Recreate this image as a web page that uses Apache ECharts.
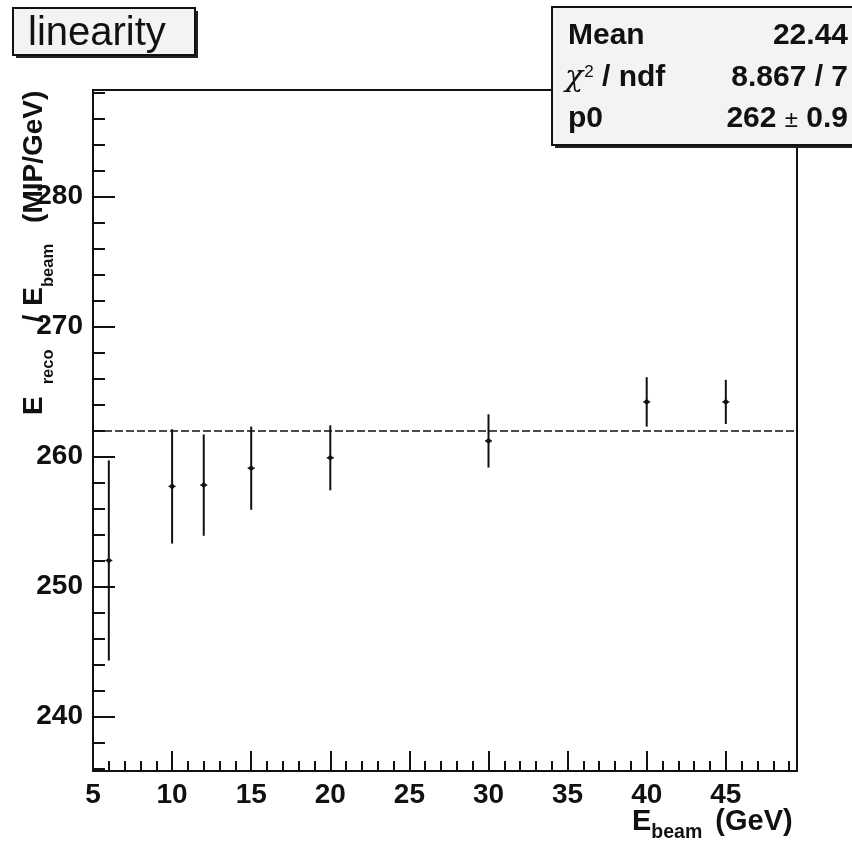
<!DOCTYPE html>
<html>
<head>
<meta charset="utf-8">
<script src="https://cdn.jsdelivr.net/npm/echarts@6/dist/echarts.min.js"></script>
<style>html,body{margin:0;padding:0;background:#fff;}#c{width:852px;height:842px;}</style>
</head>
<body>
<div id="c"></div>
<script>
// ---- data ----
const beamEnergy = [6, 10, 12, 15, 20, 30, 40, 45];
const linearity = [252.0, 257.7, 257.8, 259.1, 259.9, 261.2, 264.2, 264.2];
const linearityErr = [7.7, 4.4, 3.9, 3.2, 2.5, 2.05, 1.9, 1.7];
const fitP0 = 262;
const xRange = [5, 49.5];
const yRange = [235.8, 288.2];
const xTickStep = 5, xMinorStep = 1;
const yTickStep = 10, yMinorStep = 2;
const statsLabels = ['Mean', '\u03c7', 'p0'];
const statsValues = ['22.44', '8.867 / 7', '262', '0.9'];
const titleText = 'linearity';

const FONT = '"Liberation Sans", Arial, Helvetica, sans-serif';
const INK = '#111';

const chart = echarts.init(document.getElementById('c'), null, {renderer: 'canvas'});

const errData = beamEnergy.map((x, i) => [x, linearity[i], linearityErr[i]]);

const option = {
  animation: false,
  backgroundColor: '#fff',
  grid: {left: 93, right: 55, top: 90, bottom: 71, show: true, borderColor: INK, borderWidth: 2, backgroundColor: 'transparent'},
  xAxis: [
    {type: 'value', min: xRange[0], max: xRange[1], interval: xTickStep, position: 'bottom',
     axisLine: {show: true, lineStyle: {color: INK, width: 2}},
     axisTick: {show: true, inside: true, length: 20, lineStyle: {color: INK, width: 2}},
     axisLabel: {show: true, showMaxLabel: false, margin: 10, color: INK, fontSize: 28, fontWeight: 'bold', fontFamily: FONT,
                 formatter: v => (v % xTickStep === 0 ? String(v) : '')},
     splitLine: {show: false}},
    {type: 'value', min: xRange[0], max: xRange[1], interval: xMinorStep, position: 'bottom', offset: 0,
     axisLine: {show: false},
     axisTick: {show: true, inside: true, length: 10, lineStyle: {color: INK, width: 2}},
     axisLabel: {show: false}, splitLine: {show: false}}
  ],
  yAxis: [
    {type: 'value', min: yRange[0], max: yRange[1], splitNumber: 5, minInterval: yTickStep, maxInterval: yTickStep, position: 'left',
     axisLine: {show: true, lineStyle: {color: INK, width: 2}},
     axisTick: {show: true, inside: true, length: 22, lineStyle: {color: INK, width: 2}},
     axisLabel: {show: true, margin: 10, color: INK, fontSize: 28, fontWeight: 'bold', fontFamily: FONT,
                 formatter: v => (Math.abs(v % yTickStep) < 1e-6 ? String(v) : '')},
     splitLine: {show: false}},
    {type: 'value', min: yRange[0], max: yRange[1], splitNumber: 5, minInterval: yMinorStep, maxInterval: yMinorStep, position: 'left', offset: 0,
     axisLine: {show: false},
     axisTick: {show: true, inside: true, length: 12, lineStyle: {color: INK, width: 2}},
     axisLabel: {show: false}, splitLine: {show: false}}
  ],
  series: [
    {type: 'line', data: [], xAxisIndex: 0, yAxisIndex: 0, silent: true,
     markLine: {silent: true, symbol: 'none', label: {show: false},
                lineStyle: {color: INK, width: 1.6, type: [8, 3]},
                data: [{yAxis: fitP0}]}},
    {type: 'custom', xAxisIndex: 0, yAxisIndex: 0, data: errData, z: 10,
     renderItem: function (params, api) {
       const x = api.value(0), y = api.value(1), e = api.value(2);
       const top = api.coord([x, y + e]);
       const bot = api.coord([x, y - e]);
       const c = api.coord([x, y]);
       return {type: 'group', children: [
         {type: 'line', shape: {x1: top[0], y1: top[1], x2: bot[0], y2: bot[1]}, style: {stroke: INK, lineWidth: 2}},
         {type: 'line', shape: {x1: c[0] - 3.5, y1: c[1], x2: c[0] + 3.5, y2: c[1]}, style: {stroke: INK, lineWidth: 1.5}},
         {type: 'circle', shape: {cx: c[0], cy: c[1], r: 2.3}, style: {fill: INK}}
       ]};
     }}
  ],
  graphic: [
    // title box
    {type: 'rect', shape: {x: 16, y: 11, width: 182, height: 47}, style: {fill: '#222'}, z: 100},
    {type: 'rect', shape: {x: 13, y: 8, width: 182, height: 47}, style: {fill: '#f3f3f3', stroke: INK, lineWidth: 2}, z: 101},
    {type: 'text', x: 28, y: 34, z: 102, style: {text: titleText, font: 'normal 40px ' + FONT, fill: INK, verticalAlign: 'middle', align: 'left'}},
    // stats box
    {type: 'rect', shape: {x: 555, y: 10, width: 320, height: 138}, style: {fill: '#222'}, z: 100},
    {type: 'rect', shape: {x: 552, y: 7, width: 320, height: 138}, style: {fill: '#f3f3f3', stroke: INK, lineWidth: 2}, z: 101},
    {type: 'text', x: 568, y: 36, z: 102, style: {text: statsLabels[0], font: 'bold 30px ' + FONT, fill: INK, verticalAlign: 'middle', align: 'left'}},
    {type: 'text', x: 565, y: 78, z: 102, style: {
      text: '{g|' + statsLabels[1] + '}{sup|2}{b| / ndf}', verticalAlign: 'middle', align: 'left',
      rich: {g: {font: 'italic 30px "DejaVu Serif", serif', fill: INK, lineHeight: 36},
             sup: {font: 'normal 17px ' + FONT, fill: INK, lineHeight: 17, padding: [0, 0, 12, 1]},
             b: {font: 'bold 30px ' + FONT, fill: INK, lineHeight: 36}}}},
    {type: 'text', x: 568, y: 119, z: 102, style: {text: statsLabels[2], font: 'bold 30px ' + FONT, fill: INK, verticalAlign: 'middle', align: 'left'}},
    {type: 'text', x: 848, y: 36, z: 102, style: {text: statsValues[0], font: 'bold 30px ' + FONT, fill: INK, verticalAlign: 'middle', align: 'right'}},
    {type: 'text', x: 848, y: 78, z: 102, style: {text: statsValues[1], font: 'bold 30px ' + FONT, fill: INK, verticalAlign: 'middle', align: 'right'}},
    {type: 'text', x: 848, y: 119, z: 102, style: {
      text: '{b|' + statsValues[2] + ' }{pm|\u00b1}{b| ' + statsValues[3] + '}', align: 'right', verticalAlign: 'middle',
      rich: {b: {font: 'bold 30px ' + FONT, fill: INK, lineHeight: 36},
             pm: {font: 'normal 24px ' + FONT, fill: INK, lineHeight: 24, padding: [3, 0, 0, 0]}}}},
    // x axis title
    {type: 'text', x: 632, y: 822, z: 50, style: {
      text: '{m|E}{s|beam}{p|(GeV)}', align: 'left', verticalAlign: 'middle',
      rich: {m: {font: 'bold 29px ' + FONT, fill: INK, lineHeight: 36},
             p: {font: 'bold 29px ' + FONT, fill: INK, lineHeight: 36, padding: [0, 0, 0, 13]},
             s: {font: 'bold 19.5px ' + FONT, fill: INK, lineHeight: 20, padding: [22, 0, 0, 0]}}}},
    // y axis title (rotated, reads upward)
    {type: 'text', x: 34, y: 415, rotation: Math.PI / 2, z: 50, style: {
      text: '{m|E}{s1|reco}{sl|/}{e|E}{s2|beam}{u|(MIP/GeV)}', align: 'left', verticalAlign: 'middle',
      rich: {m: {font: 'bold 28px ' + FONT, fill: INK, lineHeight: 36},
             s1: {font: 'bold 16.5px ' + FONT, fill: INK, lineHeight: 17, padding: [29, 0, 0, 12]},
             sl: {font: 'bold 28px ' + FONT, fill: INK, lineHeight: 36, padding: [0, 0, 0, 27]},
             e: {font: 'bold 28px ' + FONT, fill: INK, lineHeight: 36, padding: [0, 0, 0, 9]},
             s2: {font: 'bold 16.5px ' + FONT, fill: INK, lineHeight: 17, padding: [29, 0, 0, 0]},
             u: {font: 'bold 28px ' + FONT, fill: INK, lineHeight: 36, padding: [0, 0, 0, 21]}}}}
  ]
};
chart.setOption(option);
</script>
</body>
</html>
